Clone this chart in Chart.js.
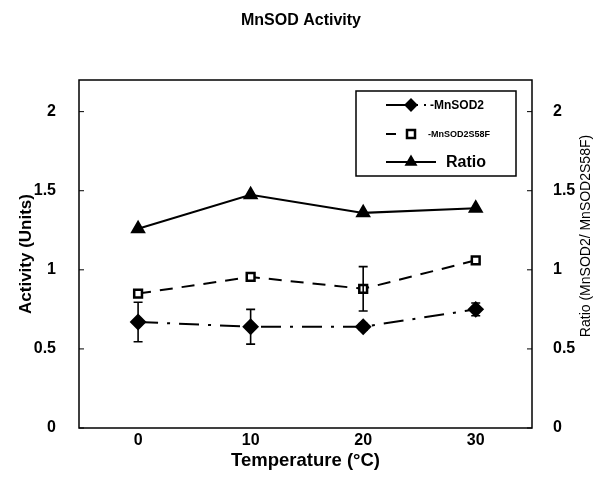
<!DOCTYPE html>
<html>
<head>
<meta charset="utf-8">
<script src="https://cdn.jsdelivr.net/npm/chart.js@4"></script>
<style>
  html, body { margin: 0; padding: 0; background: #fff; }
  #wrap { width: 602px; height: 496px; }
</style>
</head>
<body>
<div id="wrap"><canvas id="c"></canvas></div>
<script>
// data
const temps = [0, 10, 20, 30];
const mnsod2 = [0.67, 0.64, 0.64, 0.75];
const mnsod2Err = [0.125, 0.11, 0.02, 0.04];
const s58f = [0.85, 0.955, 0.88, 1.06];
const s58fErr = [0, 0, 0.14, 0];
const ratio = [1.26, 1.475, 1.36, 1.39];
const xTicks = [0, 10, 20, 30];
const yTicks = [0, 0.5, 1, 1.5, 2];

const FONT = '"Liberation Sans", Arial, sans-serif';
const pts = vals => temps.map((t, i) => ({ x: t, y: vals[i] }));

// error bars, frame, inner ticks, right title and legend box
const extras = {
  id: 'extras',
  afterDatasetsDraw(chart) {
    const { ctx, chartArea: a, scales } = chart;
    const x = scales.x, y = scales.y, y2 = scales.y2;
    ctx.save();
    ctx.strokeStyle = '#000';
    ctx.lineWidth = 1.6;
    ctx.setLineDash([]);
    const bars = (vals, errs) => {
      vals.forEach((v, i) => {
        if (!errs[i]) return;
        const px = x.getPixelForValue(temps[i]);
        const t = y.getPixelForValue(v + errs[i]);
        const b = y.getPixelForValue(v - errs[i]);
        ctx.beginPath();
        ctx.moveTo(px, t); ctx.lineTo(px, b);
        ctx.moveTo(px - 4.5, t); ctx.lineTo(px + 4.5, t);
        ctx.moveTo(px - 4.5, b); ctx.lineTo(px + 4.5, b);
        ctx.stroke();
      });
    };
    bars(mnsod2, mnsod2Err);
    bars(s58f, s58fErr);

    // frame
    ctx.lineWidth = 1.5;
    ctx.strokeRect(a.left, a.top, a.right - a.left, a.bottom - a.top);
    // inner ticks on both y axes
    ctx.lineWidth = 1;
    yTicks.forEach(v => {
      const py = y.getPixelForValue(v);
      ctx.beginPath();
      ctx.moveTo(a.left, py); ctx.lineTo(a.left + 5, py);
      const py2 = y2.getPixelForValue(v);
      ctx.moveTo(a.right, py2); ctx.lineTo(a.right - 5, py2);
      ctx.stroke();
    });

    // right axis title, reads upward
    ctx.save();
    ctx.translate(586, 236);
    ctx.rotate(-Math.PI / 2);
    ctx.fillStyle = '#000';
    ctx.font = '14px ' + FONT;
    ctx.textAlign = 'center';
    ctx.textBaseline = 'middle';
    ctx.fillText('Ratio (MnSOD2/ MnSOD2S58F)', 0, 0);
    ctx.restore();

    // legend
    const lx = 356, ly = 91, lw = 160, lh = 85;
    ctx.lineWidth = 1.5;
    ctx.strokeRect(lx, ly, lw, lh);
    const rows = [
      { y: 105, dash: [26, 4, 2, 6, 10], label: '-MnSOD2', size: 12, tx: 430, ds: 0 },
      { y: 134, dash: [10, 10], label: '-MnSOD2S58F', size: 9, tx: 428, ds: 1 },
      { y: 162, dash: [], label: 'Ratio', size: 16, tx: 446, ds: 2 }
    ];
    rows.forEach(r => {
      const ds = chart.data.datasets[r.ds];
      ctx.setLineDash(r.dash);
      ctx.lineWidth = 2;
      ctx.strokeStyle = '#000';
      ctx.beginPath();
      ctx.moveTo(386, r.y);
      ctx.lineTo(r.ds === 2 ? 436 : 426, r.y);
      ctx.stroke();
      ctx.setLineDash([]);
      ctx.fillStyle = '#000';
      if (ds.pointStyle === 'rect') {
        ctx.fillStyle = '#fff';
        ctx.fillRect(407, r.y - 4, 8, 8);
        ctx.lineWidth = 2.5;
        ctx.strokeRect(407, r.y - 4, 8, 8);
      } else {
        Chart.helpers.drawPoint(ctx, {
          pointStyle: ds.pointStyle, radius: ds.pointRadius - 1.5, borderWidth: 1
        }, 411, r.y);
      }
      ctx.fillStyle = '#000';
      ctx.font = 'bold ' + r.size + 'px ' + FONT;
      ctx.textBaseline = 'middle';
      ctx.textAlign = 'left';
      ctx.fillText(r.label, r.tx, r.y + 1);
    });
    ctx.restore();
  }
};

const yTick = {
  font: { size: 16, weight: 'bold', family: FONT },
  color: '#000',
  callback: v => String(v)
};

new Chart(document.getElementById('c'), {
  type: 'line',
  data: {
    datasets: [
      {
        label: 'MnSOD2',
        data: pts(mnsod2),
        yAxisID: 'y',
        borderColor: '#000',
        borderWidth: 2,
        borderDash: [20, 9, 3, 9],
        pointStyle: 'rectRot',
        pointRadius: 7,
        pointBackgroundColor: '#000',
        pointBorderColor: '#000',
        fill: false
      },
      {
        label: 'MnSOD2S58F',
        data: pts(s58f),
        yAxisID: 'y',
        borderColor: '#000',
        borderWidth: 2,
        borderDash: [13, 9],
        pointStyle: 'rect',
        pointRadius: 5.5,
        pointBorderWidth: 2.5,
        pointBackgroundColor: '#fff',
        pointBorderColor: '#000',
        fill: false
      },
      {
        label: 'Ratio',
        data: pts(ratio),
        yAxisID: 'y2',
        borderColor: '#000',
        borderWidth: 2,
        pointStyle: 'triangle',
        pointRadius: 7,
        pointBackgroundColor: '#000',
        pointBorderColor: '#000',
        fill: false
      }
    ]
  },
  options: {
    responsive: true,
    maintainAspectRatio: false,
    animation: false,
    layout: { padding: 0 },
    plugins: {
      legend: { display: false },
      tooltip: { enabled: false },
      title: {
        display: true,
        text: 'MnSOD Activity',
        color: '#000',
        font: { size: 16, weight: 'bold', family: FONT, lineHeight: 1.2 },
        padding: { top: 11, bottom: 49.8 }
      }
    },
    scales: {
      x: {
        type: 'linear',
        min: -5.25,
        max: 35,
        afterBuildTicks: s => { s.ticks = xTicks.map(v => ({ value: v })); },
        afterFit: s => { s.height = 68; },
        grid: { display: false, drawTicks: false },
        border: { display: false },
        ticks: {
          padding: 4,
          color: '#000',
          font: { size: 16, weight: 'bold', family: FONT, lineHeight: 1.1 }
        },
        title: {
          display: true,
          text: 'Temperature (\u00B0C)',
          color: '#000',
          font: { size: 18.5, weight: 'bold', family: FONT, lineHeight: 1.1 },
          padding: { top: 0, bottom: 25 }
        }
      },
      y: {
        position: 'left',
        min: 0,
        max: 2.2,
        afterBuildTicks: s => { s.ticks = yTicks.map(v => ({ value: v })); },
        afterFit: s => { s.width = 79; },
        grid: { display: false, drawTicks: false },
        border: { display: false },
        ticks: Object.assign({ padding: 23 }, yTick),
        title: {
          display: true,
          text: 'Activity (Units)',
          color: '#000',
          font: { size: 17, weight: 'bold', family: FONT, lineHeight: 1.2 },
          padding: { top: 16, bottom: 0 }
        }
      },
      y2: {
        position: 'right',
        min: 0,
        max: 2.2,
        afterBuildTicks: s => { s.ticks = yTicks.map(v => ({ value: v })); },
        afterFit: s => { s.width = 70; },
        grid: { display: false, drawTicks: false },
        border: { display: false },
        ticks: Object.assign({ padding: 21 }, yTick)
      }
    }
  },
  plugins: [extras]
});
</script>
</body>
</html>
